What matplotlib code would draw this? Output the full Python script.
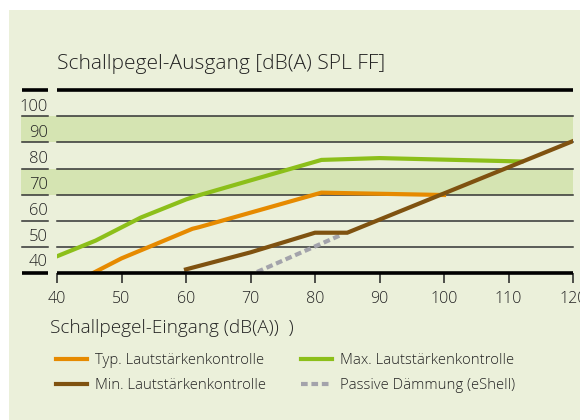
import matplotlib
matplotlib.use("Agg")
import matplotlib.pyplot as plt
from matplotlib.lines import Line2D
from matplotlib.patches import Rectangle

plt.rcParams['font.family'] = ['Open Sans', 'DejaVu Sans']

# data
typ_x = [45.5, 50, 54, 61, 62, 81, 100]
typ_y = [40, 45.7, 49.8, 57, 57.6, 70.8, 69.9]
max_x = [40, 46, 53, 60, 62, 81, 90, 112]
max_y = [46.5, 52.5, 61.3, 68.2, 69.8, 83.3, 84.0, 82.7]
min_x = [60, 70, 80, 85, 120]
min_y = [41.5, 48.0, 55.5, 55.5, 90.5]
pas_x = [71, 84]
pas_y = [40.5, 54.6]

x_ticks = [40, 50, 60, 70, 80, 90, 100, 110, 120]
y_levels = [40, 50, 60, 70, 80, 90, 100]
bands = [(70, 80), (90, 100)]

labels = ['Typ. Lautstärkenkontrolle', 'Min. Lautstärkenkontrolle',
          'Max. Lautstärkenkontrolle', 'Passive Dämmung (eShell)']

c_bg = '#ebf0da'
c_band = '#d5e4b2'
c_typ = '#e68a00'
c_max = '#8cbf1a'
c_min = '#7f5210'
c_pas = '#a3a3ab'
c_txt = '#222222'
dash = (0, (1.6, 0.9))

fig = plt.figure(figsize=(5.8, 4.2), dpi=100)
fig.patches.append(Rectangle((9 / 580, 0), 1, 410 / 420, transform=fig.transFigure,
                             facecolor=c_bg, edgecolor='none', zorder=-10))

ax = fig.add_axes([57 / 580, 146.7 / 420, 516 / 580, 183.3 / 420])
ax.set_facecolor('none')
ax.set_xlim(40, 120)
ax.set_ylim(40, 110)
for s in ax.spines.values():
    s.set_visible(False)

ytr = ax.get_yaxis_transform()
for lo, hi in bands:
    ax.axhspan(lo, hi, xmin=-0.07, xmax=1, facecolor=c_band, edgecolor='none',
               zorder=0, clip_on=False)

for y in y_levels[1:]:
    ax.plot([0, 1], [y, y], color='#333333', lw=1.1, transform=ytr, zorder=1, clip_on=False)
    ax.plot([-0.068, -0.018], [y, y], color='#333333', lw=1.1, transform=ytr, zorder=1, clip_on=False)
for y in [40, 110]:
    ax.plot([0, 1], [y, y], color='black', lw=2.6, transform=ytr, zorder=5,
            clip_on=False, solid_capstyle='butt')
    ax.plot([-0.068, -0.018], [y, y], color='black', lw=2.6, transform=ytr, zorder=5,
            clip_on=False, solid_capstyle='butt')

for y in y_levels:
    ax.annotate(str(y), (-0.018, y), xycoords=ytr, xytext=(0, 2.5 if y == 40 else 1.2),
                textcoords='offset points', ha='right', va='bottom',
                fontsize=12, color=c_txt, annotation_clip=False, fontweight='light')

ax.plot(max_x, max_y, color=c_max, lw=3, zorder=3, solid_joinstyle='miter')
ax.plot(typ_x, typ_y, color=c_typ, lw=3, zorder=3, solid_joinstyle='miter')
ax.plot(pas_x, pas_y, color=c_pas, lw=3, ls=dash, zorder=3)
ax.plot(min_x, min_y, color=c_min, lw=3, zorder=4, solid_joinstyle='miter')

ax.set_yticks([])
ax.set_xticks(x_ticks)
ax.tick_params(axis='x', length=7, width=1.1, color='#222222', pad=6,
               labelsize=11.5, labelcolor=c_txt)
for t in ax.get_xticklabels():
    t.set_fontweight('light')

fig.text(57 / 580, 1 - 64 / 420, 'Schallpegel-Ausgang [dB(A) SPL FF]',
         fontsize=15.1, color=c_txt, va='center', ha='left', fontweight='light')
fig.text(50 / 580, 1 - 328 / 420, 'Schallpegel-Eingang (dB(A))  )',
         fontsize=13.7, color=c_txt, va='center', ha='left', fontweight='light')

handles = [Line2D([], [], color=c_typ, lw=3),
           Line2D([], [], color=c_min, lw=3),
           Line2D([], [], color=c_max, lw=3),
           Line2D([], [], color=c_pas, lw=3, ls=dash)]
fig.legend(handles, labels, ncol=2, frameon=False, loc='upper left',
           bbox_to_anchor=(50 / 580, 1 - 347 / 420),
           handlelength=2.1, handletextpad=0.5, columnspacing=2.4,
           labelspacing=0.68, labelcolor=c_txt, borderaxespad=0,
           prop={'size': 10.7, 'weight': 'light'})

fig.savefig('out.png', dpi=100, facecolor='white')
